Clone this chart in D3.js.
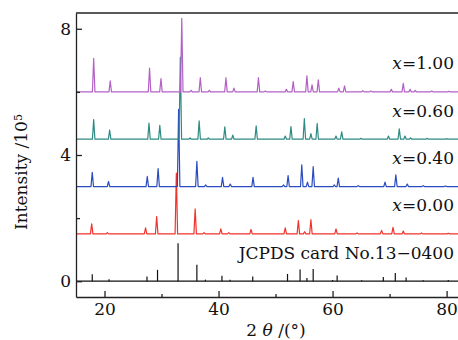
<!DOCTYPE html>
<html>
<head>
<meta charset="utf-8">
<script src="https://cdn.jsdelivr.net/npm/d3@7"></script>
<style>
  body { margin: 0; background: #fff; }
  svg text { font-family: "DejaVu Serif", serif; fill: #111; }
</style>
</head>
<body>
<div id="chart"></div>
<script>
// peak lists: [2theta, relative intensity /10^5]
var peaksJCPDS = [[17.85,0.22],[20.8,0.06],[27.45,0.15],[29.3,0.36],[32.9,1.2],[36.2,0.52],[37.7,0.05],[40.6,0.17],[42.0,0.05],[46.0,0.15],[52.1,0.23],[54.3,0.37],[55.5,0.1],[56.6,0.39],[60.0,0.04],[60.8,0.18],[65.1,0.03],[68.9,0.13],[71.0,0.26],[72.9,0.12],[75.9,0.03],[80.3,0.04]];
var peaks000 = [[17.75,0.32],[20.5,0.04],[27.2,0.19],[29.15,0.55],[32.6,1.93],[35.9,0.79],[37.45,0.04],[40.4,0.16],[41.8,0.04],[45.7,0.14],[51.7,0.19],[54.0,0.42],[55.1,0.07],[56.2,0.45],[60.6,0.16],[64.3,0.03],[68.6,0.11],[70.6,0.21],[72.4,0.09],[75.6,0.03],[80.3,0.02]];
var peaks040 = [[17.85,0.45],[20.7,0.16],[27.5,0.32],[29.4,0.57],[33.0,2.45],[36.2,0.8],[37.75,0.05],[40.7,0.29],[42.05,0.08],[46.05,0.29],[51.4,0.05],[52.2,0.35],[54.6,0.69],[55.6,0.14],[56.6,0.63],[60.3,0.05],[61.0,0.27],[64.5,0.03],[69.2,0.14],[71.1,0.37],[73.1,0.08],[75.9,0.03],[79.8,0.02]];
var peaks060 = [[18.1,0.62],[20.9,0.29],[27.8,0.51],[29.7,0.44],[33.3,2.6],[35.0,0.04],[36.6,0.58],[38.2,0.04],[41.1,0.39],[42.5,0.13],[46.6,0.42],[51.7,0.1],[52.7,0.4],[55.05,0.65],[56.2,0.18],[57.3,0.5],[60.6,0.1],[61.6,0.23],[65.0,0.03],[69.8,0.1],[71.7,0.33],[72.7,0.1],[73.7,0.04],[76.6,0.03],[80.0,0.02]];
var peaks100 = [[18.1,1.06],[21.0,0.35],[27.9,0.75],[29.9,0.42],[33.55,2.33],[35.2,0.05],[36.8,0.45],[38.4,0.05],[41.3,0.45],[42.7,0.12],[47.0,0.45],[48.2,0.03],[51.9,0.08],[53.1,0.33],[55.5,0.51],[56.4,0.22],[57.5,0.38],[61.1,0.12],[62.1,0.19],[65.3,0.04],[66.7,0.03],[70.3,0.08],[72.4,0.27],[73.6,0.08],[74.5,0.05],[77.4,0.03],[80.4,0.02]];

var seriesNames = ["x=0.00", "x=0.40", "x=0.60", "x=1.00"];
var seriesOffsets = [1.5, 3, 4.5, 6];
var seriesColors = ["#f2332b", "#2a4cc0", "#2e8a82", "#b461c6"];
var seriesPeaks = [peaks000, peaks040, peaks060, peaks100];

var xMajor = [20, 40, 60, 80];
var xMinor = [30, 50, 70];
var yMajor = [0, 4, 8];
var yMinor = [2, 6];

var margin = {top: 13, right: 0, bottom: 43, left: 76};
var width = 458 - margin.left - margin.right;
var height = 340 - margin.top - margin.bottom;

var svg = d3.select("#chart").append("svg")
    .attr("width", 458)
    .attr("height", 340);

var g = svg.append("g")
    .attr("transform", "translate(" + margin.left + "," + margin.top + ")");

var x = d3.scaleLinear().domain([15, 82]).range([0, width]);
var y = d3.scaleLinear().domain([-0.5, 8.5]).range([height, 0]);

// turn a peak list into a spiky pattern on a flat baseline
function pattern(peaks, offset) {
    var pts = [[15, offset]];
    peaks.forEach(function (p) {
        pts.push([p[0] - 0.22, offset]);
        pts.push([p[0], offset + p[1]]);
        pts.push([p[0] + 0.22, offset]);
    });
    pts.push([82, offset]);
    return pts;
}

var line = d3.line()
    .x(function (d) { return x(d[0]); })
    .y(function (d) { return y(d[1]); });

// JCPDS reference sticks
g.append("line")
    .attr("x1", 0).attr("x2", width)
    .attr("y1", y(0)).attr("y2", y(0))
    .attr("stroke", "#111").attr("stroke-width", 1.2);

g.selectAll(".stick")
    .data(peaksJCPDS)
    .enter().append("line")
    .attr("class", "stick")
    .attr("x1", function (d) { return x(d[0]); })
    .attr("x2", function (d) { return x(d[0]); })
    .attr("y1", y(0))
    .attr("y2", function (d) { return y(d[1]); })
    .attr("stroke", "#111")
    .attr("stroke-width", 1.2);

seriesPeaks.forEach(function (pk, i) {
    g.append("path")
        .datum(pattern(pk, seriesOffsets[i]))
        .attr("d", line)
        .attr("fill", "none")
        .attr("stroke", seriesColors[i])
        .attr("stroke-width", 1.2)
        .attr("stroke-linejoin", "round");
});

// labels
var labels = seriesNames.map(function (n, i) { return {name: n, off: seriesOffsets[i]}; });
labels.forEach(function (l) {
    var t = g.append("text")
        .attr("x", width - 4)
        .attr("y", y(l.off + 0.71))
        .attr("text-anchor", "end")
        .style("font-size", "17px");
    t.append("tspan").style("font-style", "italic").text("x");
    t.append("tspan").text(l.name.slice(1));
});

g.append("text")
    .attr("x", width - 4)
    .attr("y", y(0.71))
    .attr("text-anchor", "end")
    .style("font-size", "17px")
    .text("JCPDS card No.13\u22120400");

// axes, ticks pointing inwards
var xAxis = g.append("g")
    .attr("transform", "translate(0," + height + ")")
    .call(d3.axisBottom(x).tickValues(xMajor).tickSize(-6).tickSizeOuter(0).tickPadding(6));
g.append("g")
    .attr("transform", "translate(0," + height + ")")
    .call(d3.axisBottom(x).tickValues(xMinor).tickSize(-3).tickFormat(""))
    .select(".domain").remove();

var yAxis = g.append("g")
    .call(d3.axisLeft(y).tickValues(yMajor).tickSize(-6).tickSizeOuter(0).tickPadding(5));
g.append("g")
    .call(d3.axisLeft(y).tickValues(yMinor).tickSize(-4).tickFormat(""))
    .select(".domain").remove();

g.selectAll(".domain, .tick line").attr("stroke", "#222").attr("stroke-width", 1.3);
g.selectAll(".tick text")
    .style("font-family", "DejaVu Serif")
    .style("font-size", "17px")
    .attr("fill", "#111");

g.append("line")
    .attr("x1", 0).attr("x2", width)
    .attr("y1", 0).attr("y2", 0)
    .attr("stroke", "#222").attr("stroke-width", 1.3);

// axis titles
var xt = svg.append("text")
    .attr("x", 276)
    .attr("y", 336)
    .attr("text-anchor", "middle")
    .style("font-size", "17px");
xt.append("tspan").text("2 ");
xt.append("tspan").style("font-style", "italic").text("\u03b8");
xt.append("tspan").text(" /(\u00b0)");

var yt = svg.append("text")
    .attr("transform", "translate(27,172) rotate(-90)")
    .attr("text-anchor", "middle")
    .style("font-size", "17px");
yt.append("tspan").text("Intensity /10");
yt.append("tspan").attr("dy", "-0.45em").style("font-size", "11px").text("5");
</script>
</body>
</html>
